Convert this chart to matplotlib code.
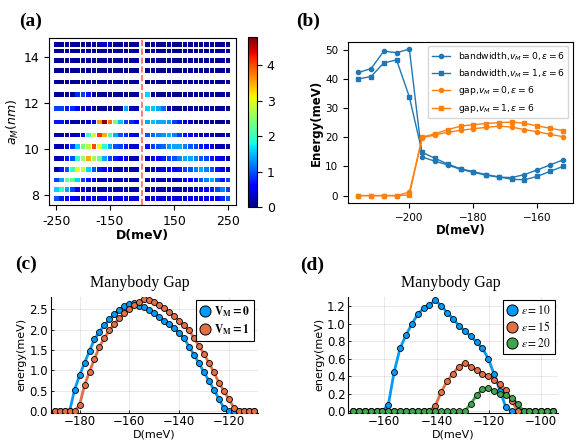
import matplotlib.pyplot as plt
from matplotlib.lines import Line2D
import numpy as np

# ---------------- (a) gap map over D and a_M ----------------
a_M = [14.54, 14.25, 13.85, 13.40, 12.91, 12.36, 11.77, 11.18, 10.61, 10.12, 9.58, 9.11, 8.66, 8.24, 7.85]
D_left = [-250, -240, -230, -220, -210, -200, -190, -180, -170, -160, -150, -140, -130, -120, -110, -100]
D_right = [100, 110, 120, 130, 140, 150, 160, 170, 180, 190, 200, 210, 220, 230, 240, 250]
a_ticks = [-250, -150, 150, 250]

# rows top (large a_M) to bottom
gap_left = [
    [0.1, 0.1, 0.1, 0.1, 0.1, 0.1, 0.1, 0.1, 0.2, 0.3, 0.3, 0.1, 0.1, 0.1, 0.1, 0.1],
    [0.1, 0.1, 0.1, 0.1, 0.1, 0.1, 0.1, 0.1, 0.1, 0.1, 0.1, 0.1, 0.1, 0.1, 0.1, 0.1],
    [0.1, 0.1, 0.1, 0.1, 0.1, 0.1, 0.1, 0.1, 0.1, 0.1, 0.1, 0.1, 0.1, 0.1, 0.1, 0.1],
    [0.1, 0.1, 0.1, 0.1, 0.1, 0.1, 0.1, 0.1, 0.1, 0.1, 0.1, 0.1, 0.1, 0.1, 0.1, 0.1],
    [0.1, 0.1, 0.1, 0.1, 0.1, 0.1, 0.1, 0.1, 0.1, 0.1, 0.1, 0.1, 0.1, 0.1, 0.1, 0.1],
    [0.1, 0.1, 0.1, 0.1, 0.8, 0.9, 0.7, 0.1, 0.1, 0.1, 0.1, 0.1, 0.1, 0.1, 0.1, 0.1],
    [0.9, 0.9, 0.7, 0.8, 0.6, 0.3, 0.2, 0.1, 0.1, 0.1, 0.1, 0.1, 0.1, 1.4, 0.3, 0.2],
    [0.7, 0.7, 0.3, 0.2, 0.2, 0.2, 0.3, 0.4, 3.6, 4.75, 3.8, 2.4, 1.5, 0.9, 0.8, 0.6],
    [0.2, 0.2, 0.2, 0.2, 0.3, 0.5, 2.0, 2.9, 4.1, 3.5, 2.1, 1.4, 1.0, 0.8, 0.6, 0.4],
    [0.2, 0.2, 0.3, 0.9, 1.6, 2.4, 2.7, 4.0, 3.0, 1.9, 1.4, 1.0, 0.9, 0.7, 0.4, 0.3],
    [0.2, 0.3, 0.7, 1.0, 2.0, 2.6, 3.5, 2.6, 2.3, 1.4, 0.9, 0.7, 0.6, 0.4, 0.2, 0.2],
    [0.2, 0.7, 1.0, 2.0, 3.0, 2.8, 1.6, 1.0, 0.7, 0.6, 0.4, 0.2, 0.2, 0.2, 0.2, 0.2],
    [0.9, 1.4, 2.3, 2.2, 1.6, 0.9, 0.7, 0.5, 0.2, 0.2, 0.2, 0.2, 0.2, 0.2, 0.2, 0.2],
    [1.6, 2.0, 1.4, 0.9, 0.6, 0.4, 0.2, 0.2, 0.2, 0.2, 0.2, 0.2, 0.2, 0.2, 0.2, 0.2],
    [1.0, 0.7, 0.6, 0.5, 0.4, 0.4, 0.4, 0.4, 0.4, 0.4, 0.4, 0.4, 0.4, 0.4, 0.4, 0.4],
]
gap_right = [
    [0.1, 0.1, 0.1, 0.1, 0.1, 0.1, 0.1, 0.1, 0.1, 0.1, 0.1, 0.1, 0.1, 0.1, 0.1, 0.1],
    [0.1, 0.1, 0.1, 0.1, 0.1, 0.1, 0.1, 0.1, 0.1, 0.1, 0.1, 0.1, 0.1, 0.1, 0.1, 0.1],
    [0.1, 0.1, 0.1, 0.1, 0.1, 0.1, 0.1, 0.1, 0.1, 0.1, 0.1, 0.1, 0.1, 0.1, 0.1, 0.1],
    [0.1, 0.1, 0.1, 0.1, 0.1, 0.1, 0.1, 0.1, 0.1, 0.1, 0.1, 0.1, 0.1, 0.1, 0.1, 0.1],
    [0.1, 0.1, 0.1, 0.1, 0.1, 0.1, 0.1, 0.1, 0.1, 0.1, 0.1, 0.1, 0.1, 0.1, 0.1, 0.1],
    [1.6, 0.1, 0.1, 0.1, 0.1, 0.1, 0.1, 0.1, 0.1, 0.1, 0.1, 0.1, 0.1, 0.1, 0.1, 0.1],
    [1.6, 1.5, 1.4, 1.1, 0.2, 0.1, 0.1, 0.1, 0.1, 0.1, 0.1, 0.1, 0.1, 0.1, 0.1, 0.1],
    [1.4, 1.5, 1.4, 1.4, 1.3, 0.9, 0.7, 0.3, 0.2, 0.1, 0.1, 0.1, 0.1, 0.1, 0.1, 0.1],
    [1.0, 1.1, 1.2, 1.3, 1.4, 1.2, 0.9, 0.7, 0.6, 0.4, 0.2, 0.2, 0.2, 0.2, 0.2, 0.2],
    [0.7, 0.9, 1.0, 1.1, 1.3, 1.4, 1.4, 1.2, 1.0, 0.9, 0.7, 0.6, 0.4, 0.2, 0.2, 0.2],
    [0.3, 0.5, 0.6, 0.7, 0.9, 1.0, 1.2, 1.4, 1.4, 1.2, 1.0, 0.9, 0.7, 0.6, 0.4, 0.2],
    [0.2, 0.2, 0.3, 0.5, 0.5, 0.6, 0.7, 0.9, 1.0, 1.2, 1.4, 1.2, 1.0, 0.7, 0.4, 0.3],
    [0.2, 0.2, 0.2, 0.2, 0.2, 0.2, 0.3, 0.5, 0.6, 0.7, 1.0, 1.2, 1.4, 1.0, 0.7, 0.9],
    [0.2, 0.2, 0.2, 0.2, 0.2, 0.2, 0.2, 0.2, 0.2, 0.3, 0.5, 0.6, 0.7, 0.9, 1.2, 0.9],
    [0.4, 0.4, 0.4, 0.4, 0.4, 0.4, 0.4, 0.4, 0.4, 0.4, 0.4, 0.4, 0.5, 0.6, 0.8, 1.0],
]

# ---------------- (b) bandwidth and gap, eps = 6 ----------------
D_b = [-216, -212, -208, -204, -200, -196, -192, -188, -184, -180, -176, -172, -168, -164, -160, -156, -152]
bw_v0 = [42.2, 43.5, 49.5, 49.0, 50.2, 13.2, 11.8, 10.5, 9.0, 8.0, 7.0, 6.3, 6.2, 7.2, 8.8, 10.5, 12.2]
bw_v1 = [40.0, 40.8, 45.5, 46.5, 33.8, 14.8, 12.8, 10.8, 9.2, 8.2, 7.2, 6.4, 5.6, 5.4, 6.6, 8.3, 10.0]
gap_v0 = [0.0, 0.0, 0.0, 0.0, 1.2, 19.8, 20.8, 21.7, 22.4, 22.9, 23.4, 23.8, 23.5, 22.6, 21.9, 21.0, 20.2]
gap_v1 = [0.0, 0.0, 0.0, 0.0, 0.2, 20.0, 21.2, 22.6, 23.8, 24.3, 24.7, 25.0, 25.2, 24.8, 23.9, 23.1, 22.3]

# ---------------- (c) many-body gap vs V_M ----------------
D_c = [-190, -188, -186, -184, -182, -180, -178, -176, -174, -172, -170, -168, -166, -164,
       -162, -160, -158, -156, -154, -152, -150, -148, -146, -144, -142, -140, -138, -136,
       -134, -132, -130, -128, -126, -124, -122, -120, -118, -116, -114, -112, -110]
mb_v0 = [0, 0, 0, 0, 0.52, 0.88, 1.18, 1.48, 1.76, 1.95, 2.11, 2.25, 2.38, 2.49,
         2.57, 2.63, 2.64, 2.59, 2.55, 2.48, 2.40, 2.31, 2.22, 2.13, 2.03, 1.92, 1.79, 1.58,
         1.38, 1.17, 0.95, 0.74, 0.52, 0.30, 0.07, 0, 0, 0, 0, 0, 0]
mb_v1 = [0, 0, 0, 0, 0, 0.15, 0.63, 0.97, 1.28, 1.58, 1.80, 1.98, 2.14, 2.28,
         2.40, 2.50, 2.60, 2.68, 2.74, 2.72, 2.67, 2.60, 2.52, 2.43, 2.33, 2.22, 2.10, 1.98,
         1.79, 1.60, 1.40, 1.18, 0.95, 0.70, 0.49, 0.30, 0.08, 0, 0, 0, 0]

# ---------------- (d) many-body gap vs epsilon ----------------
D_d = [-172.0, -169.75, -167.5, -165.25, -163.0, -160.75, -158.5, -156.25, -154.0, -151.75,
       -149.5, -147.25, -145.0, -142.75, -140.5, -138.25, -136.0, -133.75, -131.5, -129.25,
       -127.0, -124.75, -122.5, -120.25, -118.0, -115.75, -113.5, -111.25, -109.0, -106.75,
       -104.5, -102.25, -100.0, -97.75, -95.5]
mb_e10 = [0, 0, 0, 0, 0, 0, 0.07, 0.45, 0.72, 0.87, 1.00, 1.11, 1.18, 1.22, 1.27, 1.21, 1.13,
          1.06, 0.98, 0.92, 0.86, 0.79, 0.72, 0.60, 0.42, 0.23, 0.04, 0, 0, 0, 0, 0, 0, 0, 0]
mb_e15 = [0, 0, 0, 0, 0, 0, 0, 0, 0, 0, 0, 0, 0, 0, 0.06, 0.22, 0.34, 0.43, 0.51, 0.55, 0.51,
          0.47, 0.43, 0.40, 0.36, 0.31, 0.24, 0.11, 0, 0, 0, 0, 0, 0, 0]
mb_e20 = [0, 0, 0, 0, 0, 0, 0, 0, 0, 0, 0, 0, 0, 0, 0, 0, 0, 0, 0, 0, 0.08, 0.18, 0.25, 0.26,
          0.23, 0.20, 0.18, 0.15, 0.08, 0, 0, 0, 0, 0, 0]

jl_blue, jl_orange, jl_green = "#009AFA", "#E36F47", "#3EA44E"

fig = plt.figure(figsize=(5.8, 4.45), dpi=100)


def panel_label(x, y, s):
    fig.text(x / 580, 1 - y / 445, s, ha="center", va="center",
             family="Liberation Serif", weight="bold", fontsize=14)


# (a)
ax1 = fig.add_axes([0.085, 0.539, 0.322, 0.376])
left_pos = np.arange(len(D_left))
right_pos = np.arange(len(D_right)) + len(D_left) + 1
for row, a in enumerate(a_M):
    pos = np.concatenate([left_pos, right_pos])
    vals = np.array(gap_left[row] + gap_right[row])
    sc = ax1.scatter(pos, np.full(len(pos), a), c=vals, cmap="jet", vmin=0, vmax=4.8,
                     marker="s", s=11, linewidths=0)
ax1.axvline(len(D_left), color="#ff6666", ls="--", lw=1.2)
tick_pos = [D_left.index(t) if t < 0 else D_right.index(t) + len(D_left) + 1 for t in a_ticks]
ax1.set_xticks(tick_pos)
ax1.set_xticklabels([str(t) for t in a_ticks])
ax1.set_xlim(-1.3, 33.5)
ax1.set_ylim(7.57, 14.82)
ax1.set_yticks([8, 10, 12, 14])
ax1.tick_params(labelsize=9)
ax1.set_xlabel("D(meV)", fontsize=9, weight="bold", labelpad=1)
ax1.set_ylabel("$a_M(nm)$", fontsize=9, labelpad=2)
cax = fig.add_axes([0.4276, 0.535, 0.0155, 0.382])
cb = fig.colorbar(sc, cax=cax, ticks=[0, 1, 2, 3, 4])
cb.ax.tick_params(labelsize=9)

# (b)
ax2 = fig.add_axes([0.6, 0.544, 0.388, 0.362])
ax2.plot(D_b, bw_v0, "o-", color="tab:blue", lw=1, ms=3, label=r"bandwidth,$v_M=0,\varepsilon=6$")
ax2.plot(D_b, bw_v1, "s-", color="tab:blue", lw=1, ms=3, label=r"bandwidth,$v_M=1,\varepsilon=6$")
ax2.plot(D_b, gap_v0, "o-", color="tab:orange", lw=1, ms=3, label=r"gap,$v_M=0,\varepsilon=6$")
ax2.plot(D_b, gap_v1, "s-", color="tab:orange", lw=1, ms=3, label=r"gap,$v_M=1,\varepsilon=6$")
ax2.set_xticks([-200, -180, -160])
ax2.set_yticks([0, 10, 20, 30, 40, 50])
ax2.tick_params(labelsize=7.5)
ax2.set_xlabel("D(meV)", fontsize=8.5, weight="bold", labelpad=1)
ax2.set_ylabel("Energy(meV)", fontsize=8.5, weight="bold", labelpad=2)
ax2.legend(loc="upper right", fontsize=6.6)


def julia_axes(ax):
    for side in ("top", "right"):
        ax.spines[side].set_visible(False)
    for side in ("left", "bottom"):
        ax.spines[side].set_linewidth(0.8)
    ax.grid(True, color="black", alpha=0.1, lw=0.6)
    ax.set_axisbelow(True)
    ax.tick_params(direction="in", length=2.5, width=0.6, labelsize=8.5, pad=2)


def julia_legend(ax, labels, colors):
    handles = [Line2D([], [], ls="none", marker="o", ms=8, mfc=c, mec="black", mew=0.7)
               for c in colors]
    leg = ax.legend(handles, labels, loc="upper right", fontsize=8.3, frameon=True,
                    fancybox=False, framealpha=1, edgecolor="black", borderaxespad=0.3,
                    handlelength=0.8, handletextpad=0.4, borderpad=0.35, labelspacing=0.25)
    leg.get_frame().set_linewidth(0.8)
    for t in leg.get_texts():
        t.set_math_fontfamily("stix")
    return leg


# (c)
ax3 = fig.add_axes([0.0874, 0.0726, 0.357, 0.261])
julia_axes(ax3)
for y, col in ((mb_v0, jl_blue), (mb_v1, jl_orange)):
    ax3.plot(D_c, y, "-", color=col, lw=2, zorder=2)
    ax3.plot(D_c, y, "o", ls="none", ms=4.3, mfc=col, mec="black", mew=0.6, zorder=3)
ax3.set_xlim(-191.6, -108.4)
ax3.set_ylim(-0.04, 2.81)
ax3.set_xticks([-180, -160, -140, -120])
ax3.set_yticks([0.0, 0.5, 1.0, 1.5, 2.0, 2.5])
ax3.set_yticklabels(["0.0", "0.5", "1.0", "1.5", "2.0", "2.5"])
ax3.set_xlabel("D(meV)", fontsize=8, labelpad=1)
ax3.set_ylabel("energy(meV)", fontsize=8, labelpad=2)
julia_legend(ax3, [r"$\mathbf{V_M = 0}$", r"$\mathbf{V_M = 1}$"], [jl_blue, jl_orange])
fig.text(140 / 580, 1 - 283 / 445, "Manybody Gap", ha="center", va="center",
         family="Liberation Serif", fontsize=11.5)

# (d)
ax4 = fig.add_axes([0.6005, 0.0726, 0.362, 0.261])
julia_axes(ax4)
for y, col in ((mb_e10, jl_blue), (mb_e15, jl_orange), (mb_e20, jl_green)):
    ax4.plot(D_d, y, "-", color=col, lw=2, zorder=2)
    ax4.plot(D_d, y, "o", ls="none", ms=4.3, mfc=col, mec="black", mew=0.6, zorder=3)
ax4.set_xlim(-173.8, -93.5)
ax4.set_ylim(-0.02, 1.314)
ax4.set_xticks([-160, -140, -120, -100])
ax4.set_yticks([0.0, 0.2, 0.4, 0.6, 0.8, 1.0, 1.2])
ax4.set_yticklabels(["0.0", "0.2", "0.4", "0.6", "0.8", "1.0", "1.2"])
ax4.set_xlabel("D(meV)", fontsize=8, labelpad=1)
ax4.set_ylabel("energy(meV)", fontsize=8, labelpad=2)
julia_legend(ax4, [r"$\varepsilon = 10$", r"$\varepsilon = 15$", r"$\varepsilon = 20$"],
             [jl_blue, jl_orange, jl_green])
fig.text(451 / 580, 1 - 283 / 445, "Manybody Gap", ha="center", va="center",
         family="Liberation Serif", fontsize=11.5)

panel_label(31, 21, "(a)")
panel_label(308.5, 21.5, "(b)")
panel_label(26, 264.7, "(c)")
panel_label(312.5, 265, "(d)")

fig.savefig("out.png", dpi=100)
